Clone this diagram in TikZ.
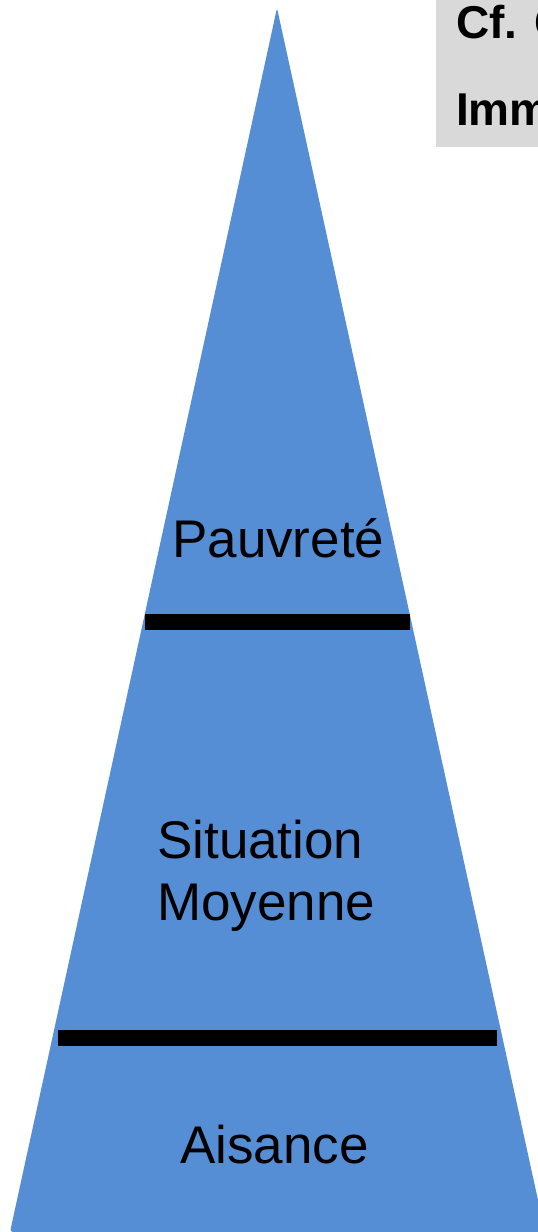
\documentclass[tikz,border=0pt]{standalone}
\usepackage{fontspec}
\setmainfont{Liberation Sans}
\usetikzlibrary{positioning}
\usepackage{xcolor}
\definecolor{pyrblue}{HTML}{558ED5}
\definecolor{notegray}{HTML}{D9D9D9}

\begin{document}
\begin{tikzpicture}[
				x=1pt,y=-1pt,
				level/.style={font=\fontsize{53}{62}\selectfont,inner sep=0pt,anchor=base west},
				note/.style={font=\fontsize{46}{55}\selectfont\bfseries,inner sep=0pt,anchor=base west},
				bar/.style={line width=16pt}
				]
				\useasboundingbox (0,0) rectangle (538,1232);
				\begin{scope}
				\clip (0,0) rectangle (538,1232);
				
				% Pyramide
				\fill[pyrblue,rounded corners=3pt] (277,8) -- (545,1232) -- (10,1232) -- cycle;
				
				% Cadre gris
				\fill[notegray] (436,0) rectangle (560,147);
				\node[note] (cf) at (456,38) {Cf. C};
				\node[note] (imm) at (456,125) {Imm};
				\end{scope}
				
				% Niveaux
				\coordinate (b1l) at (145,622);
				\coordinate (b1r) at (410,622);
				\coordinate (b2l) at (58,1038);
				\coordinate (b2r) at (497,1038);
				\draw[bar] (b1l) -- (b1r);
				\draw[bar] (b2l) -- (b2r);
				
				\node[level] (pauvrete) at (172,557) {Pauvreté};
				\node[level] (situation) at (157,858) {Situation};
				\node[level] (moyenne) at (157,920) {Moyenne};
				\node[level] (aisance) at (180,1163) {Aisance};
				
			\end{tikzpicture}
\end{document}
